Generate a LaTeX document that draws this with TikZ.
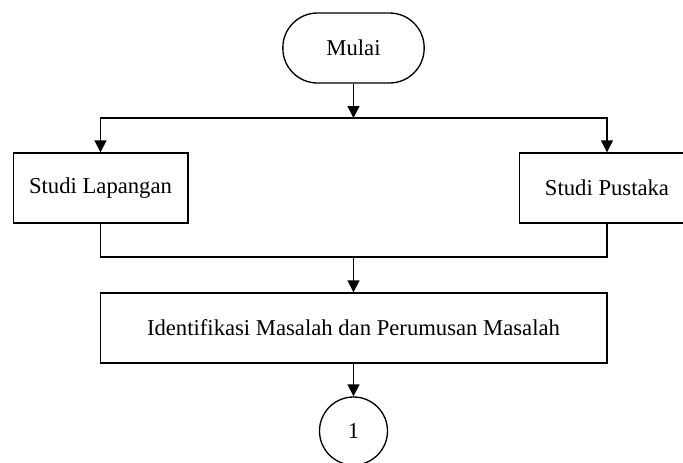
\documentclass[tikz,border=0pt]{standalone}
\usepackage{fontspec}
\setmainfont{Liberation Serif}
\usetikzlibrary{arrows.meta}
\usetikzlibrary{positioning}
\tikzset{arr/.style = {-{Triangle[length = 9pt, width = 9pt]}}}
\tikzset{box/.style = {draw, line width = 1pt, minimum width = 131pt, minimum height = 52.5pt,
                       inner sep = 0}}
\tikzset{term/.style = {box, rounded corners = 26pt, minimum width = 106pt}}
\tikzset{conn/.style = {draw, circle, line width = 1pt, minimum size = 51pt, inner sep = 0}}

\begin{document}
\begin{tikzpicture}[x = 0.75pt, y = -0.75pt, line width = 1pt,
                    every node/.style = {font = \fontsize{17}{20}\selectfont}]
      \useasboundingbox (0, 0) rectangle (683, 462);

      \node [term] (mulai) at (353.5, 48) {Mulai};
      \node [box] (lap) at (100.5, 188) {Studi Lapangan};
      \node [box] (pus) at (607, 188) {Studi Pustaka};
      \node [box, minimum width = 380pt] (idm) at (353.5, 328)
            {Identifikasi Masalah dan Perumusan Masalah};
      \node [conn] (con) at (353.5, 431) {1};

      \coordinate (split) at (353.5, 118);
      \coordinate (merge) at (353.5, 257);

      \draw [arr] (mulai) -- (split);
      \draw [arr] (split) -| (lap);
      \draw [arr] (split) -| (pus);
      \draw (lap) |- (merge) -| (pus);
      \draw [arr] (merge) -- (idm);
      \draw [arr] (idm) -- (con);
    \end{tikzpicture}
\end{document}
